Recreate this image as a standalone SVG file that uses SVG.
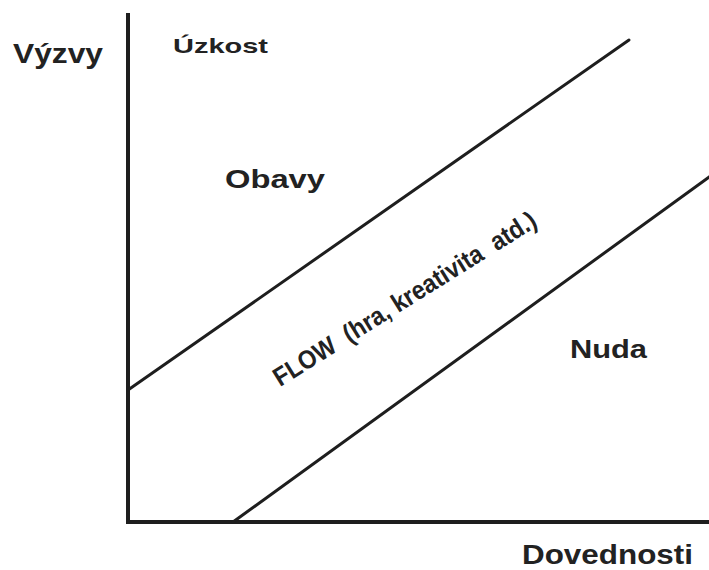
<svg xmlns="http://www.w3.org/2000/svg" width="709" height="570" viewBox="0 0 709 570">
<style>
.axis{stroke:#1e1e1e;stroke-width:4;fill:none;stroke-linecap:square}
.diag{stroke:#1e1e1e;stroke-width:3;fill:none;stroke-linecap:round}
.lbl{font-family:"Liberation Sans","DejaVu Sans",sans-serif;font-weight:bold;fill:#222}
.flow{font-family:"Liberation Sans Narrow","Liberation Sans",sans-serif;font-weight:bold;fill:#222}
</style>
<rect width="709" height="570" fill="#ffffff"/>
<g id="connectors">
<line class="axis" x1="128" y1="15" x2="128" y2="522"/>
<line class="axis" x1="128" y1="522" x2="709" y2="522"/>
<line class="diag" x1="128" y1="390" x2="629" y2="40"/>
<line class="diag" x1="233" y1="522" x2="712" y2="175"/>
</g>
<g id="vyzvy"><text class="lbl" x="13" y="63" font-size="28" textLength="90" lengthAdjust="spacingAndGlyphs">Výzvy</text></g>
<g id="uzkost"><text class="lbl" x="173" y="53" font-size="21" textLength="95" lengthAdjust="spacingAndGlyphs">Úzkost</text></g>
<g id="obavy"><text class="lbl" x="225" y="188" font-size="25" textLength="100" lengthAdjust="spacingAndGlyphs">Obavy</text></g>
<g id="nuda"><text class="lbl" x="570" y="358" font-size="25" textLength="77" lengthAdjust="spacingAndGlyphs">Nuda</text></g>
<g id="dovednosti"><text class="lbl" x="522" y="564" font-size="28" textLength="171" lengthAdjust="spacingAndGlyphs">Dovednosti</text></g>
<g id="flow"><text class="flow" xml:space="preserve" transform="translate(280,387) rotate(-32)" font-size="26" textLength="305" lengthAdjust="spacingAndGlyphs">FLOW  (hra, kreativita  atd.)</text></g>
</svg>
